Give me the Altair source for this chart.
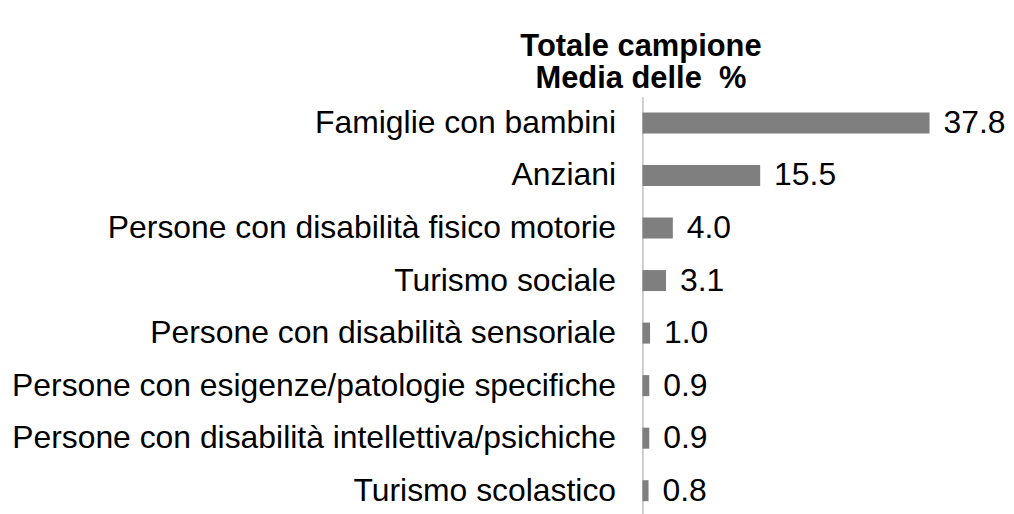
import altair as alt
import pandas as pd

categories = [
    "Famiglie con bambini",
    "Anziani",
    "Persone con disabilità fisico motorie",
    "Turismo sociale",
    "Persone con disabilità sensoriale",
    "Persone con esigenze/patologie specifiche",
    "Persone con disabilità intellettiva/psichiche",
    "Turismo scolastico",
]
values = [37.8, 15.5, 4.0, 3.1, 1.0, 0.9, 0.9, 0.8]
labels = ["37.8", "15.5", "4.0", "3.1", "1.0", "0.9", "0.9", "0.8"]
title_lines = ["Totale campione", "Media delle \u00a0%"]

df = pd.DataFrame({"cat": categories, "val": values, "lab": labels})

FONT = "Liberation Sans"

y_enc = alt.Y(
    "cat:N",
    sort=categories,
    title=None,
    scale=alt.Scale(paddingInner=0.6, paddingOuter=0.3),
    axis=alt.Axis(
        ticks=False,
        labelFontSize=32,
        labelFont=FONT,
        labelColor="#000000",
        labelPadding=27,
        labelLimit=0,
        domainColor="#a0a0a0",
        domainWidth=1,
    ),
)
x_enc = alt.X("val:Q", title=None, scale=alt.Scale(domain=[0, 40]), axis=None)

bars = alt.Chart(df).mark_bar(color="#7f7f7f").encode(x=x_enc, y=y_enc)
text = alt.Chart(df).mark_text(
    align="left", baseline="middle", dx=14, fontSize=32, font=FONT, color="#000000"
).encode(x=x_enc, y=y_enc, text="lab:N")

chart = (
    alt.layer(bars, text)
    .properties(
        width=305,
        height=422,
        padding={"left": 637, "top": 88, "right": 60, "bottom": 0},
        autosize=alt.AutoSizeParams(type="none"),
        title=alt.TitleParams(
            text=title_lines,
            fontSize=31,
            font=FONT,
            fontWeight="bold",
            color="#000000",
            anchor="middle",
            dx=-154,
            offset=2,
            lineHeight=32,
        ),
    )
    .configure_view(stroke=None)
)

chart.save("out.html", embed_options={"renderer": "svg", "actions": False})
